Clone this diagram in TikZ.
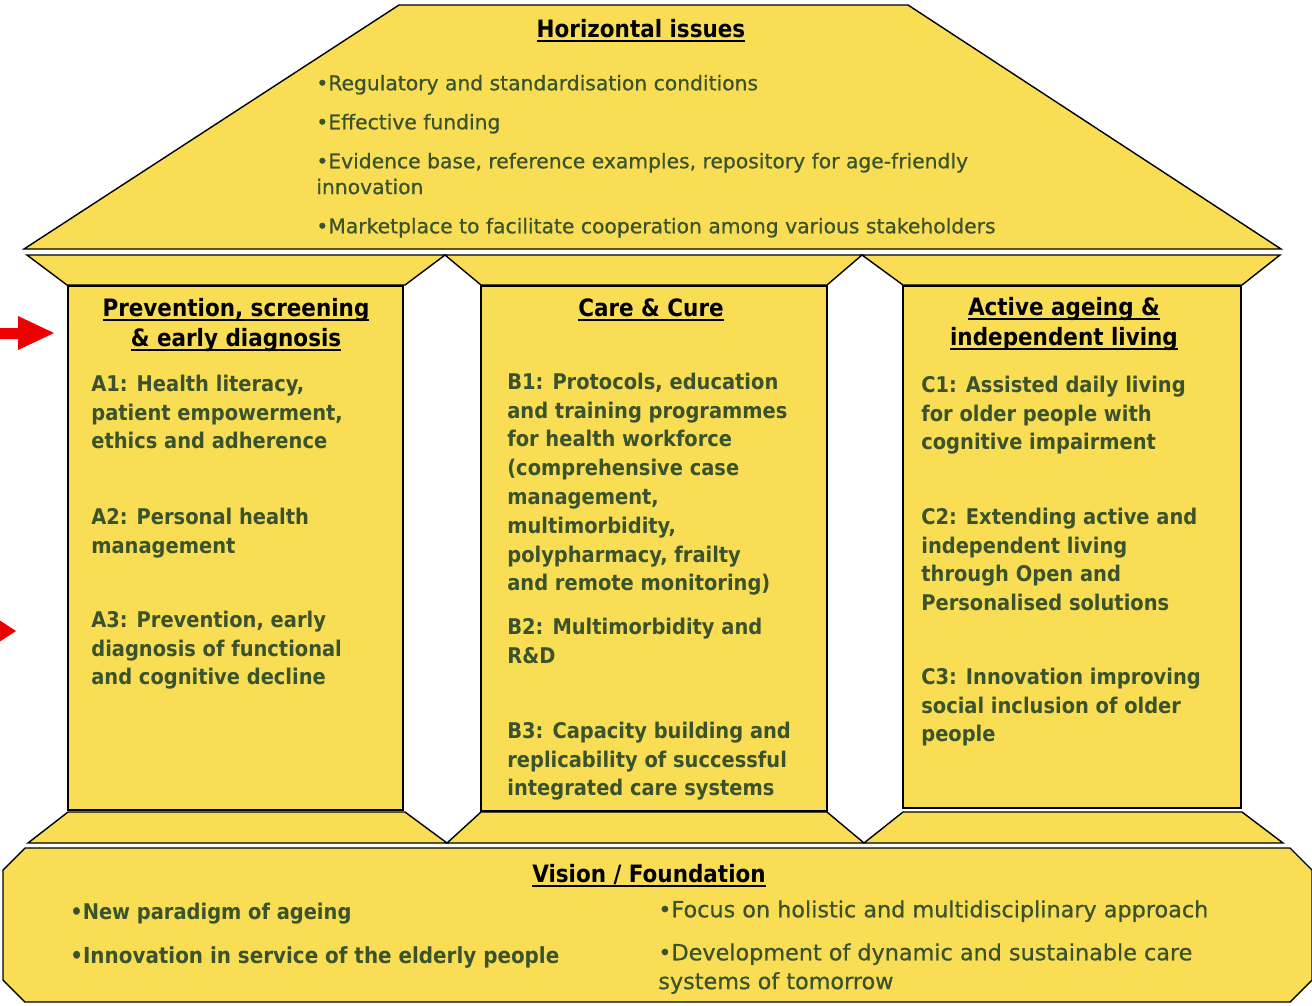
\documentclass[tikz,border=0pt]{standalone}
\usepackage{fontspec}
\setmainfont{DejaVu Sans}
\newfontfamily\condbold{DejaVu Sans Condensed Bold}
\newfontfamily\roofface[FakeBold=0.7]{DejaVu Sans}
\usepackage{tikz}
\usetikzlibrary{calc}
\definecolor{houseyellow}{RGB}{249,222,85}
\definecolor{textgreen}{RGB}{59,83,45}
\definecolor{arrowred}{RGB}{237,0,0}
\newsavebox{\titlebox}
\newcommand{\linetop}{\rule{0pt}{0.8em}}
\newcommand{\titleline}[1]{\sbox{\titlebox}{#1}\rlap{\rule[-2.5pt]{\wd\titlebox}{1.1pt}}\usebox{\titlebox}}

\begin{document}
\begin{tikzpicture}[x=0.02cm,y=-0.02cm,
    part/.style={fill=houseyellow,draw=black,line width=0.8pt,line join=miter},
    ttl/.style={anchor=north,inner sep=0pt,align=center,font=\condbold\fontsize{13.6}{17}\selectfont},
    item/.style={anchor=north west,inner sep=0pt,align=left,text=textgreen,font=\condbold\fontsize{12.3}{16.4}\selectfont},
    bullet/.style={anchor=north west,inner sep=0pt,align=left,text=textgreen,font=\roofface\fontsize{11.55}{14.7}\selectfont}]
            \useasboundingbox (0,0) rectangle (1312,1005);
            % roof and capitals
            \draw[part] (399,5) -- (908,5) -- (1281,249) -- (24,249) -- cycle;
            \draw[part] (27,255) -- (445,255) -- (405,285) -- (67,285) -- cycle;
            \draw[part] (445,255) -- (862,255) -- (827,285) -- (481,285) -- cycle;
            \draw[part] (862,255) -- (1280,255) -- (1242,285) -- (903,285) -- cycle;
            % pillars
            \draw[part,line width=1pt] (68,286) rectangle (403,810);
            \draw[part,line width=1pt] (481,286) rectangle (827,811);
            \draw[part,line width=1pt] (903,286) rectangle (1241,808);
            % bases and foundation
            \draw[part] (68,812) -- (405,812) -- (447,843) -- (28,843) -- cycle;
            \draw[part] (481,812) -- (827,812) -- (864,843) -- (447,843) -- cycle;
            \draw[part] (903,812) -- (1242,812) -- (1283,843) -- (864,843) -- cycle;
            \draw[part] (25,848) -- (1290,848) -- (1312,870) -- (1312,980) -- (1290,1002) -- (25,1002) -- (3,980) -- (3,870) -- cycle;
            % red arrows
            \fill[arrowred] (-10,328) -- (18,328) -- (18,316) -- (54,333) -- (18,350) -- (18,339) -- (-10,339) -- cycle;
            \fill[arrowred] (-40,626) -- (-10,626) -- (-10,614) -- (16,631) -- (-10,648) -- (-10,637) -- (-40,637) -- cycle;

            \node[ttl] (roof) at (641,17.8) {\linetop\titleline{Horizontal issues}};
            \node[bullet] (h1) at (316,73.7) {\linetop•Regulatory and standardisation conditions};
            \node[bullet] (h2) at (316,112.7) {\linetop•Effective funding};
            \node[bullet] (h3) at (316,151.7) {\linetop•Evidence base, reference examples, repository for age-friendly\\innovation};
            \node[bullet] (h4) at (316,216.7) {\linetop•Marketplace to facilitate cooperation among various stakeholders};

            \node[ttl] (prevention) at (236,296.8) {\linetop\titleline{Prevention, screening}\\\titleline{\& early diagnosis}};
            \node[item] (a1) at (91,373.6) {\linetop A1: Health literacy,\\patient empowerment,\\ethics and adherence};
            \node[item] (a2) at (91,506.6) {\linetop A2: Personal health\\management};
            \node[item] (a3) at (91,609.6) {\linetop A3: Prevention, early\\diagnosis of functional\\and cognitive decline};

            \node[ttl] (care) at (651,296.8) {\linetop\titleline{Care \& Cure}};
            \node[item] (b1) at (507,371.6) {\linetop B1: Protocols, education\\and training programmes\\for health workforce\\(comprehensive case\\management,\\multimorbidity,\\polypharmacy, frailty\\and remote monitoring)};
            \node[item] (b2) at (507,616.6) {\linetop B2: Multimorbidity and\\R\&D};
            \node[item] (b3) at (507,720.6) {\linetop B3: Capacity building and\\replicability of successful\\integrated care systems};

            \node[ttl] (active) at (1064,295.8) {\linetop\titleline{Active ageing \&}\\\titleline{independent living}};
            \node[item] (c1) at (921,374.6) {\linetop C1: Assisted daily living\\for older people with\\cognitive impairment};
            \node[item] (c2) at (921,506.6) {\linetop C2: Extending active and\\independent living\\through Open and\\Personalised solutions};
            \node[item] (c3) at (921,666.6) {\linetop C3: Innovation improving\\social inclusion of older\\people};

            \node[ttl] (vision) at (649,862.8) {\linetop\titleline{Vision / Foundation}};
            \node[item] (f1) at (70,901.6) {\linetop•New paradigm of ageing};
            \node[item,font=\condbold\fontsize{12.6}{16.4}\selectfont] (f2) at (70,945.2) {\linetop•Innovation in service of the elderly people};
            \node[bullet,font=\roofface\fontsize{12.7}{16.4}\selectfont] (f3) at (658,899.1) {\linetop•Focus on holistic and multidisciplinary approach};
            \node[bullet,font=\roofface\fontsize{12.7}{16.4}\selectfont] (f4) at (658,942.1) {\linetop•Development of dynamic and sustainable care\\systems of tomorrow};
        \end{tikzpicture}
\end{document}
